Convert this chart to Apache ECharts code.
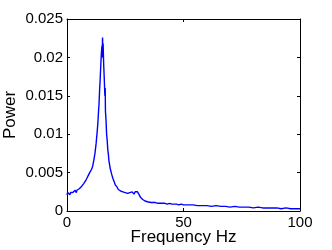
<!DOCTYPE html>
<html><head><meta charset="utf-8">
<script src="https://cdn.jsdelivr.net/npm/echarts@6/dist/echarts.min.js"></script>
<style>html,body{margin:0;padding:0;background:#fff}#c{width:332px;height:250px}</style>
</head><body><div id="c"></div>
<script>
var freq = [0,0.25,0.5,0.75,1,1.25,1.5,1.75,2,2.25,2.5,2.75,3,3.25,3.5,3.75,4,4.25,4.5,4.75,5,5.25,5.5,5.75,6,6.25,6.5,6.75,7,7.25,7.5,7.75,8,8.25,8.5,8.75,9,9.25,9.5,9.75,10,
  10.5,11,11.5,12,12.5,13,13.25,13.5,13.75,14,14.25,14.5,14.75,15,15.1,15.25,15.4,15.5,15.75,16,16.25,16.4,16.5,16.75,17,17.25,17.5,17.75,18,18.25,18.5,18.75,19,19.25,19.5,19.75,20,20.25,20.5,20.75,21,21.25,21.5,21.75,22,22.25,22.5,22.75,23,23.25,23.5,23.75,24,24.25,24.5,24.75,25,25.25,25.5,25.75,26,26.25,26.5,26.75,27,27.25,27.5,27.75,28,28.25,28.5,28.75,29,29.25,29.5,29.75,30,30.25,30.5,30.75,31,31.5,32,32.5,33,33.5,34,34.5,35,36,37,38,39,40,41,42,43,44,45,46,47,48,49,50,52,54,56,58,60,62,64,66,68,70,72,74,76,78,80,82,84,86,88,90,92,94,96,98,100];
var power = [0.0021,0.0024,0.0022,0.0025,0.0023,0.0021,0.0024,0.0022,0.0025,0.0023,0.0024,0.0022,0.0026,0.0024,0.0027,0.0025,0.0024,0.0027,0.0025,0.0028,0.0026,0.0029,0.0027,0.0031,0.0029,0.0032,0.0030,0.0034,0.0032,0.0036,0.0034,0.0038,0.0036,0.0041,0.0039,0.0044,0.0042,0.0047,0.0045,0.0050,0.0049,
  0.0054,0.0058,0.0066,0.0075,0.0088,0.0105,0.0115,0.0128,0.0140,0.0158,0.0172,0.0190,0.0205,0.0215,0.0200,0.0226,0.0210,0.0218,0.0190,0.0172,0.0150,0.0160,0.0130,0.0118,0.0100,0.0092,0.0080,0.0074,0.0065,0.0061,0.0056,0.0054,0.0050,0.0047,0.0045,0.0042,0.0040,0.0038,0.0037,0.0034,0.0032,0.0033,0.0031,0.0029,0.0028,0.0030,0.0029,0.0027,0.0026,0.0028,0.0026,0.0027,0.0025,0.0027,0.0025,0.0026,0.0024,0.0026,0.0024,0.0026,0.0023,0.0025,0.0023,0.0025,0.0024,0.0022,0.0024,0.0022,0.0025,0.0023,0.0024,0.0022,0.0024,0.0025,0.0023,0.0024,0.0023,0.0025,0.0023,0.0024,0.0021,0.0018,0.0016,0.0015,0.0014,0.0013,0.0013,0.0012,0.0012,0.0011,0.0011,0.0011,0.0010,0.0010,0.0010,0.0010,0.0009,0.0010,0.0009,0.0009,0.0009,0.0008,0.0009,0.0008,0.0008,0.0008,0.0007,0.0007,0.0007,0.0006,0.0007,0.0006,0.0006,0.0005,0.0006,0.0005,0.0005,0.0005,0.0004,0.0005,0.0004,0.0004,0.0004,0.0004,0.0003,0.0004,0.0003,0.0003,0.0003,0.0003,0.0003,0.0003,0.0003];
var yTickLabels = ['0','0.005','0.01','0.015','0.02','0.025'];
var xTickLabels = ['0','50','100'];

var data = freq.map(function(f,i){return [f,power[i]];});
var font = 'Liberation Sans, Arial, Helvetica, sans-serif';
var axLine = {show:true, onZero:false, lineStyle:{color:'#000', width:1}};
var tick = {show:true, inside:true, length:3, lineStyle:{color:'#000'}};
var chart = echarts.init(document.getElementById('c'), null, {renderer:'canvas'});
chart.setOption({
  animation:false,
  backgroundColor:'#fff',
  grid:{left:67, right:32, top:19, bottom:39, containLabel:false, outerBoundsMode:'none'},
  xAxis:[{
    type:'value', min:0, max:100, interval:50, position:'bottom',
    name:'Frequency Hz', nameLocation:'middle', nameGap:18, nameMoveOverlap:false,
    nameTextStyle:{color:'#000', fontSize:17, fontFamily:font},
    axisLine:axLine, axisTick:tick, splitLine:{show:false},
    axisLabel:{color:'#000', fontSize:15, fontFamily:font, margin:4,
      formatter:function(v){return xTickLabels[Math.round(v/50)];}}
  },{
    type:'value', min:0, max:100, interval:50, position:'top',
    axisLine:axLine, axisTick:tick, splitLine:{show:false}, axisLabel:{show:false}
  }],
  yAxis:[{
    type:'value', min:0, max:0.025, interval:0.005, position:'left',
    name:'Power', nameLocation:'middle', nameGap:48, nameMoveOverlap:false,
    nameTextStyle:{color:'#000', fontSize:17, fontFamily:font},
    axisLine:axLine, axisTick:tick, splitLine:{show:false},
    axisLabel:{color:'#000', fontSize:15, fontFamily:font, margin:4,
      formatter:function(v){return yTickLabels[Math.round(v/0.005)];}}
  },{
    type:'value', min:0, max:0.025, interval:0.005, position:'right',
    axisLine:axLine, axisTick:tick, splitLine:{show:false}, axisLabel:{show:false}
  }],
  series:[{
    type:'line', data:data, showSymbol:false, symbol:'none',
    lineStyle:{color:'#0000ff', width:1.4}
  }]
});
</script></body></html>
